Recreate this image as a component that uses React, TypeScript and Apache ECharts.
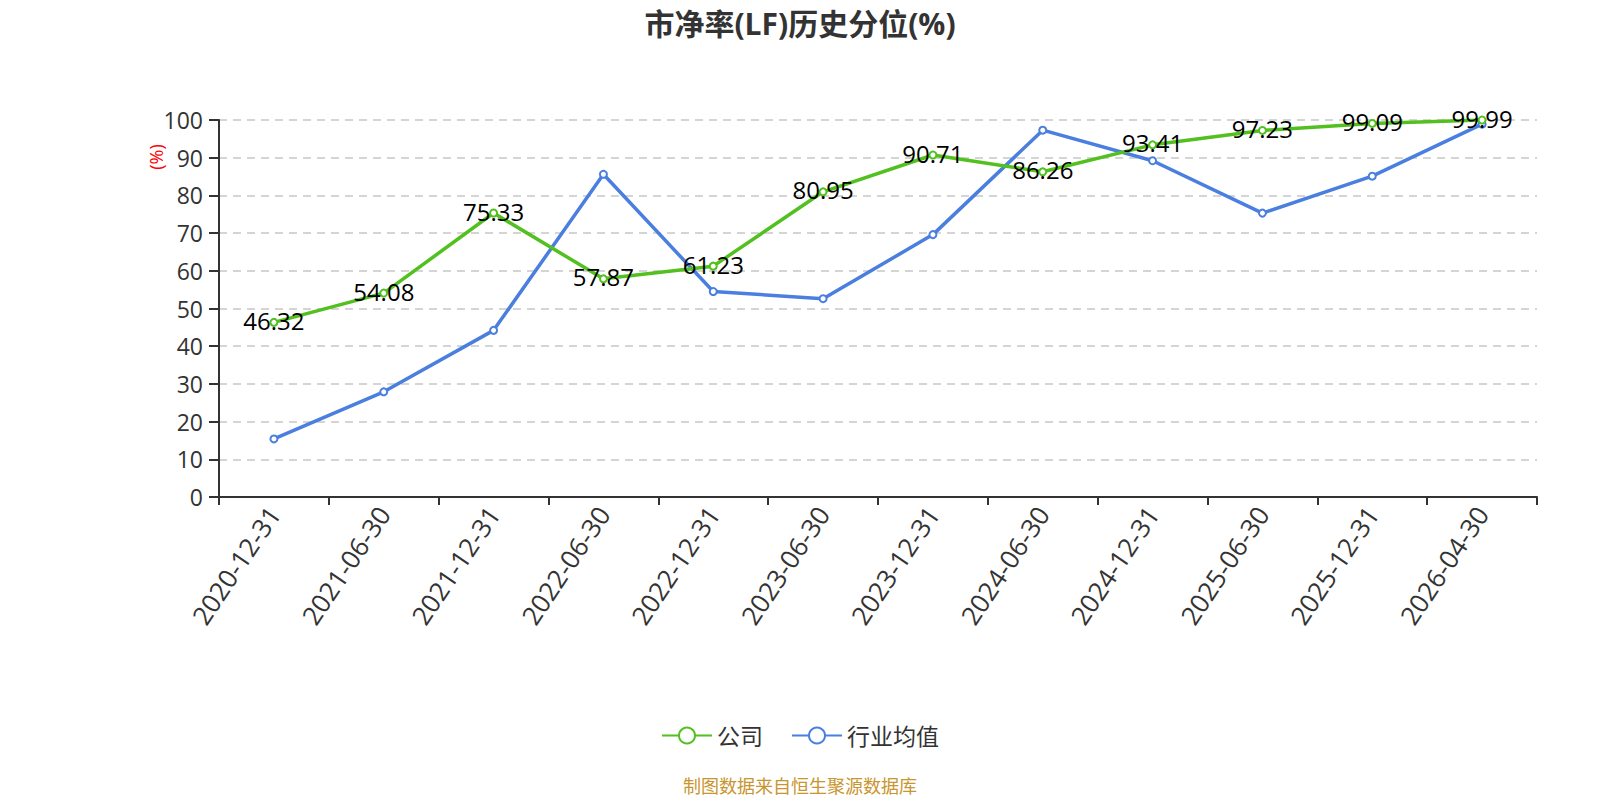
import React, { useEffect, useRef } from "react";
import * as echarts from "echarts";

const categories = [
  "2020-12-31", "2021-06-30", "2021-12-31", "2022-06-30", "2022-12-31", "2023-06-30",
  "2023-12-31", "2024-06-30", "2024-12-31", "2025-06-30", "2025-12-31", "2026-04-30",
];
const companyValues = [46.32, 54.08, 75.33, 57.87, 61.23, 80.95, 90.71, 86.26, 93.41, 97.23, 99.09, 99.99];
const industryValues = [15.4, 27.9, 44.2, 85.6, 54.5, 52.6, 69.6, 97.3, 89.2, 75.3, 85.1, 98.9];
const seriesNames = ["公司", "行业均值"];
const titleText = "市净率(LF)历史分位(%)";
const footerText = "制图数据来自恒生聚源数据库";
const yUnit = "(%)";

const FONT = "'Open Sans', 'Noto Sans CJK SC', sans-serif";

export default function App() {
  const ref = useRef<HTMLDivElement>(null);
  useEffect(() => {
    if (!ref.current) return;
    const chart = echarts.init(ref.current, undefined, { renderer: "svg" });
    chart.setOption({
      animation: false,
      textStyle: { fontFamily: FONT },
      title: {
        text: titleText,
        left: "center",
        top: 3,
        textStyle: { fontSize: 30, fontWeight: "bold", color: "#333", fontFamily: FONT },
      },
      legend: {
        data: seriesNames,
        bottom: 48,
        left: "center",
        itemWidth: 50,
        itemHeight: 20,
        itemGap: 28,
        textStyle: { fontSize: 23, color: "#333", fontFamily: FONT },
      },
      grid: { left: 219, right: 63, top: 120, bottom: 303, containLabel: false },
      xAxis: {
        type: "category",
        data: categories,
        boundaryGap: true,
        axisLine: { lineStyle: { color: "#333", width: 2 } },
        axisTick: { show: true, length: 8, lineStyle: { color: "#333", width: 2 } },
        axisLabel: { rotate: 56, fontSize: 26, color: "#333", margin: 12, fontFamily: FONT },
      },
      yAxis: {
        type: "value",
        min: 0,
        max: 100,
        interval: 10,
        axisLine: { show: true, lineStyle: { color: "#333", width: 2 } },
        axisTick: { show: true, length: 10, lineStyle: { color: "#333", width: 2 } },
        axisLabel: { fontSize: 23, color: "#333", margin: 16, fontFamily: FONT },
        splitLine: { show: true, lineStyle: { type: [8, 6], color: "#c8c8c8", width: 1.5 } },
      },
      graphic: [
        {
          type: "text",
          x: 156,
          y: 157,
          rotation: Math.PI / 2,
          style: {
            text: yUnit,
            fill: "#ff0000",
            fontSize: 18,
            fontFamily: FONT,
            align: "center",
            verticalAlign: "middle",
          },
        },
        {
          type: "text",
          left: "center",
          top: 777,
          style: { text: footerText, fill: "#c8952e", fontSize: 18, fontFamily: FONT },
        },
      ],
      series: [
        {
          name: seriesNames[0],
          type: "line",
          data: companyValues,
          symbol: "emptyCircle",
          symbolSize: 7,
          z: 3,
          itemStyle: { color: "#52c01e", borderWidth: 2 },
          lineStyle: { color: "#52c01e", width: 3.5 },
          label: {
            show: true,
            position: "inside",
            offset: [0, -2],
            fontSize: 24,
            color: "#000",
            fontFamily: FONT,
          },
        },
        {
          name: seriesNames[1],
          type: "line",
          data: industryValues,
          symbol: "emptyCircle",
          symbolSize: 7,
          z: 2,
          itemStyle: { color: "#4a7fe0", borderWidth: 2 },
          lineStyle: { color: "#4a7fe0", width: 3.5 },
        },
      ],
    });
    return () => chart.dispose();
  }, []);
  return (
    <div
      ref={ref}
      style={{ position: "fixed", left: 0, top: 0, width: 1600, height: 800, background: "#fff" }}
    />
  );
}
